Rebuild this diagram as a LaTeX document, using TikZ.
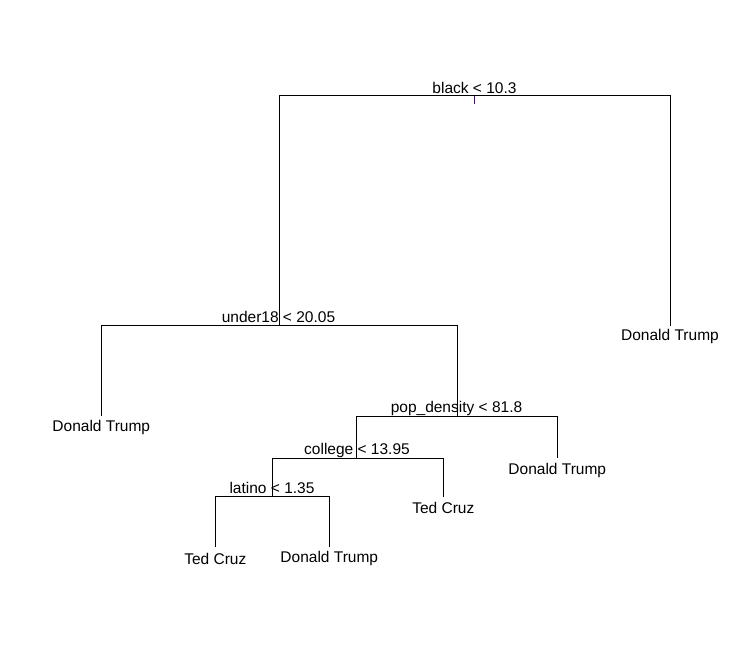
\documentclass[tikz,border=0pt]{standalone}
\usepackage{fontspec}
\setmainfont{Liberation Sans}
\definecolor{tickpurple}{RGB}{90,0,140}
\begin{document}
\begin{tikzpicture}[x=1pt,y=-1pt,
  lbl/.style={font=\fontsize{15.5}{18}\selectfont, inner sep=0pt, anchor=base},
  edge/.style={draw=black, line width=1pt}]
\useasboundingbox (0,0) rectangle (734,663);
% split labels
\node[lbl] (tblack) at (474.5,93.3) {black < 10.3};
\node[lbl] (tunder) at (278.5,322) {under18 < 20.05};
\node[lbl] (tpop) at (456.5,412) {pop\_density < 81.8};
\node[lbl] (tcol) at (357,454) {college < 13.95};
\node[lbl] (tlat) at (272,493.3) {latino < 1.35};
% leaf labels
\node[lbl] (lR) at (670,340.7) {Donald Trump};
\node[lbl] (lL) at (101.3,431) {Donald Trump};
\node[lbl] (lP) at (557.3,474) {Donald Trump};
\node[lbl] (lC) at (443.3,513.3) {Ted Cruz};
\node[lbl] (lA) at (215.3,564) {Ted Cruz};
\node[lbl] (lB) at (329.3,562) {Donald Trump};
% tree coordinates
\coordinate (root) at (474,96);
\coordinate (roottick) at (474,104);
\coordinate (rL) at (279,96);
\coordinate (rR) at (670,96);
\coordinate (eR) at (670,325.5);
\coordinate (u) at (279,325);
\coordinate (uL) at (101.3,325);
\coordinate (uR) at (457.3,325);
\coordinate (eL) at (101.3,415.7);
\coordinate (p) at (457.3,416);
\coordinate (pL) at (356.7,416);
\coordinate (pR) at (557.5,416);
\coordinate (eP) at (557.5,458.3);
\coordinate (c) at (356.7,458.5);
\coordinate (cL) at (272.3,458.5);
\coordinate (cR) at (443.3,458.5);
\coordinate (eC) at (443.3,496.5);
\coordinate (l) at (272.3,496);
\coordinate (lLc) at (215.3,496);
\coordinate (lRc) at (329.3,496);
\coordinate (eA) at (215.3,546.7);
\coordinate (eB) at (329.3,546.7);
% edges
\draw[edge] (u) -- (rL) -- (rR) -- (eR);
\draw[tickpurple, line width=1pt] (root) -- (roottick);
\draw[edge] (eL) -- (uL) -- (uR) -- (p);
\draw[edge] (c) -- (pL) -- (pR) -- (eP);
\draw[edge] (l) -- (cL) -- (cR) -- (eC);
\draw[edge] (eA) -- (lLc) -- (lRc) -- (eB);
\end{tikzpicture}
\end{document}
